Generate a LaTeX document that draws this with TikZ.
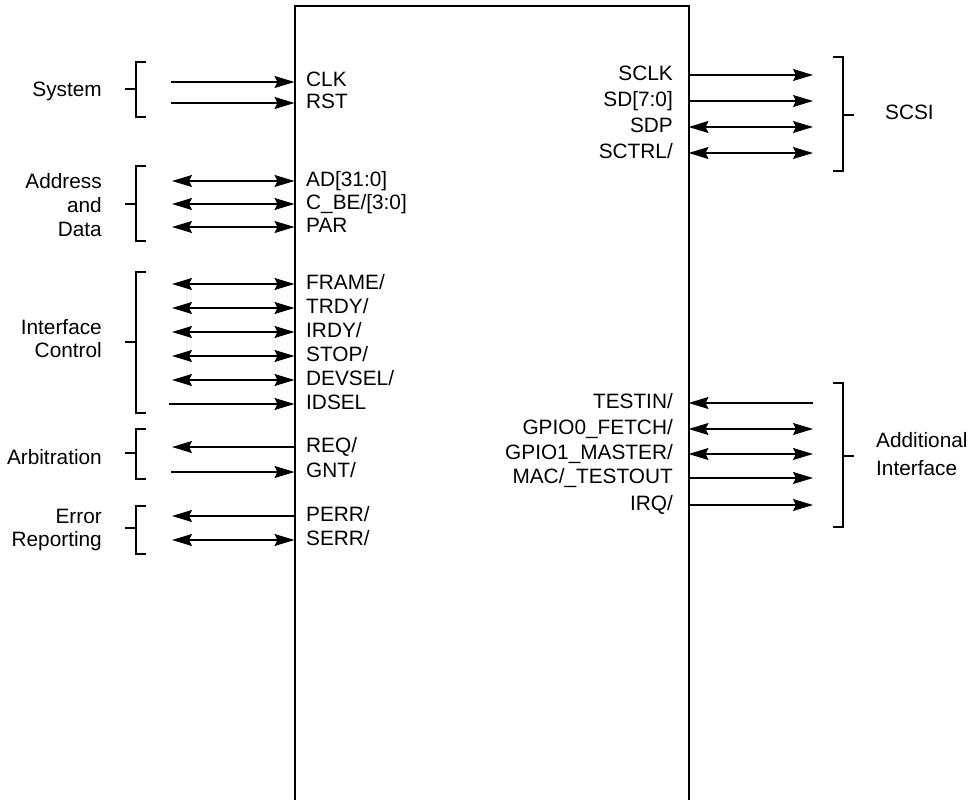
\documentclass[tikz,border=0pt]{standalone}
\usepackage{fontspec}
\setmainfont{Liberation Sans}
\usetikzlibrary{arrows.meta}
\begin{document}
\begin{tikzpicture}[x=1pt,y=-1pt,
  >={Stealth[length=20pt,width=12pt,inset=3pt]},
  sig/.style={line width=1.3pt},
  brk/.style={line width=1.3pt},
  lbl/.style={font=\fontsize{20.8}{24}\selectfont, inner sep=0pt},
  lw/.style={lbl, anchor=base west},
  le/.style={lbl, anchor=base east}]
\useasboundingbox (0,0) rectangle (970,800);
% chip
\node[draw, line width=2pt, outer sep=0pt, inner sep=0pt, minimum width=394pt, minimum height=830pt, anchor=north west] (chip) at (294.5,6) {};

% ---- left signals ----
\coordinate (aclk) at (171,82);    \draw[sig,->] (aclk) -- (aclk -| chip.west);
\coordinate (arst) at (171,103);   \draw[sig,->] (arst) -- (arst -| chip.west);
\coordinate (aad) at (172,181);    \draw[sig,<->] (aad) -- (aad -| chip.west);
\coordinate (acbe) at (172,204);   \draw[sig,<->] (acbe) -- (acbe -| chip.west);
\coordinate (apar) at (172,227);   \draw[sig,<->] (apar) -- (apar -| chip.west);
\coordinate (afrm) at (172,284);   \draw[sig,<->] (afrm) -- (afrm -| chip.west);
\coordinate (atrdy) at (172,308);  \draw[sig,<->] (atrdy) -- (atrdy -| chip.west);
\coordinate (airdy) at (172,332);  \draw[sig,<->] (airdy) -- (airdy -| chip.west);
\coordinate (astop) at (172,356);  \draw[sig,<->] (astop) -- (astop -| chip.west);
\coordinate (adev) at (172,380);   \draw[sig,<->] (adev) -- (adev -| chip.west);
\coordinate (aidsel) at (169,404); \draw[sig,->] (aidsel) -- (aidsel -| chip.west);
\coordinate (areq) at (172,447);   \draw[sig,<-] (areq) -- (areq -| chip.west);
\coordinate (agnt) at (171,472);   \draw[sig,->] (agnt) -- (agnt -| chip.west);
\coordinate (aperr) at (172,516);  \draw[sig,<-] (aperr) -- (aperr -| chip.west);
\coordinate (aserr) at (172,540);  \draw[sig,<->] (aserr) -- (aserr -| chip.west);

\node[lw] (lclk) at (306,87) {CLK};
\node[lw] (lrst) at (306,108) {RST};
\node[lw] (lad) at (306,186) {AD[31:0]};
\node[lw] (lcbe) at (306,209) {C\_BE/[3:0]};
\node[lw] (lpar) at (306,232) {PAR};
\node[lw] (lfrm) at (306,289) {FRAME/};
\node[lw] (ltrdy) at (306,313) {TRDY/};
\node[lw] (lirdy) at (306,337) {IRDY/};
\node[lw] (lstop) at (306,361) {STOP/};
\node[lw] (ldev) at (306,385) {DEVSEL/};
\node[lw] (lidsel) at (306,409) {IDSEL};
\node[lw] (lreq) at (306,452) {REQ/};
\node[lw] (lgnt) at (306,477) {GNT/};
\node[lw] (lperr) at (306,521) {PERR/};
\node[lw] (lserr) at (306,545) {SERR/};

% ---- left brackets and group labels ----
\draw[brk] (146,62) -- (136,62) -- (136,117) -- (146,117);
\draw[brk] (125,89) -- (136,89);
\node[le] (gsys) at (102,96.5) {System};

\draw[brk] (146,166) -- (136,166) -- (136,241) -- (146,241);
\draw[brk] (125,204) -- (136,204);
\node[le] (gad1) at (102,188) {Address};
\node[le] (gad2) at (102,212.5) {and};
\node[le] (gad3) at (102,236) {Data};

\draw[brk] (146,272) -- (136,272) -- (136,413) -- (146,413);
\draw[brk] (125,342) -- (136,342);
\node[le] (gic1) at (102,334) {Interface};
\node[le] (gic2) at (102,357) {Control};

\draw[brk] (146,429) -- (136,429) -- (136,479) -- (146,479);
\draw[brk] (125,453) -- (136,453);
\node[le] (garb) at (102,464) {Arbitration};

\draw[brk] (146,506) -- (136,506) -- (136,554) -- (146,554);
\draw[brk] (125,528) -- (136,528);
\node[le] (ger1) at (102,523) {Error};
\node[le] (ger2) at (102,546.5) {Reporting};

% ---- right signals ----
\coordinate (bsclk) at (813,75);   \draw[sig,->] (bsclk -| chip.east) -- (bsclk);
\coordinate (bsd) at (813,101);    \draw[sig,->] (bsd -| chip.east) -- (bsd);
\coordinate (bsdp) at (813,127);   \draw[sig,<->] (bsdp -| chip.east) -- (bsdp);
\coordinate (bsctrl) at (813,153); \draw[sig,<->] (bsctrl -| chip.east) -- (bsctrl);
\coordinate (btest) at (813,403);  \draw[sig,<-] (btest -| chip.east) -- (btest);
\coordinate (bg0) at (813,429);    \draw[sig,<->] (bg0 -| chip.east) -- (bg0);
\coordinate (bg1) at (813,454);    \draw[sig,<->] (bg1 -| chip.east) -- (bg1);
\coordinate (bmac) at (813,478);   \draw[sig,->] (bmac -| chip.east) -- (bmac);
\coordinate (birq) at (813,505);   \draw[sig,->] (birq -| chip.east) -- (birq);

\node[le] (rsclk) at (673,80.5) {SCLK};
\node[le] (rsd) at (673,106.5) {SD[7:0]};
\node[le] (rsdp) at (673,132.5) {SDP};
\node[le] (rsctrl) at (673,158.5) {SCTRL/};
\node[le] (rtest) at (673,408.5) {TESTIN/};
\node[le] (rg0) at (673,434.5) {GPIO0\_FETCH/};
\node[le] (rg1) at (673,459.5) {GPIO1\_MASTER/};
\node[le] (rmac) at (673,483.5) {MAC/\_TESTOUT};
\node[le] (rirq) at (673,510.5) {IRQ/};

% ---- right brackets ----
\draw[brk] (833,57) -- (843,57) -- (843,171) -- (833,171);
\draw[brk] (843,115) -- (854,115);
\node[lw] (gscsi) at (885,119) {SCSI};

\draw[brk] (833,383) -- (843,383) -- (843,527) -- (833,527);
\draw[brk] (843,456) -- (854,456);
\node[lw] (gai1) at (876,447) {Additional};
\node[lw] (gai2) at (876,475) {Interface};
\end{tikzpicture}
\end{document}
